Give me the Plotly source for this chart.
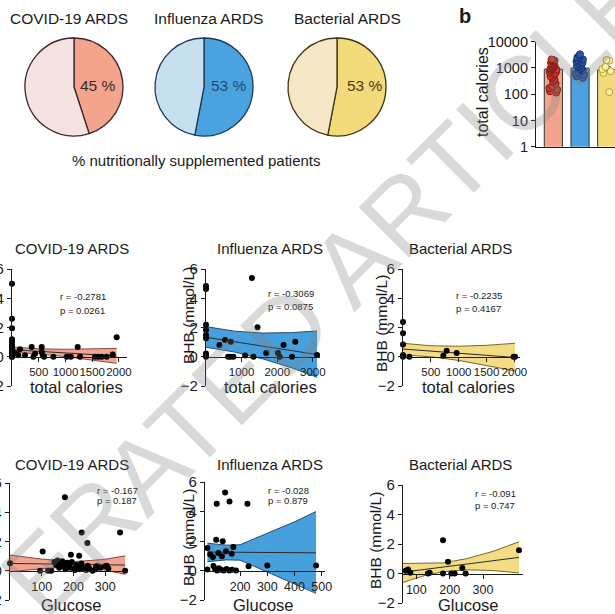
import plotly.graph_objects as go

# ---------------- data ----------------
groups = ["COVID-19 ARDS", "Influenza ARDS", "Bacterial ARDS"]
pct_supplemented = [45, 53, 53]

bar_means = [900, 980, 850]
bar_sem = [110, 190, 260]
covid_cal_dots = [2100, 2000, 1900, 1800, 1700, 1550, 1400, 1300, 1200, 1100, 1000, 950, 900, 850,
                  800, 700, 650, 600, 550, 480, 420, 360, 300, 250, 200, 170, 150, 130, 115]
flu_cal_dots = [3300, 2900, 2500, 2300, 2100, 1950, 1800, 1600, 1450, 1300, 1200, 1100, 1000, 900,
                800, 700, 620, 550, 480, 420]
bac_cal_dots = [2000, 1900, 1100, 900, 750, 650, 120]

# BHB vs total calories
covid_cal_x = [0, 0, 0, 0, 0, 0, 0, 0, 0, 0, 0, 0, 0, 56, 118, 150, 243, 368, 400, 430, 555, 555, 575,
               600, 773, 1023, 1100, 1228, 1272, 1552, 1615, 1677, 1770, 1883, 1957]
covid_cal_y = [5.0, 2.6, 1.95, 1.2, 1.0, 0.8, 0.6, 0.45, 0.3, 0.2, 0.1, 0.0, 0.0, 0.25, 0.1, 0.52, 0.1,
               0.66, 0.0, 0.2, 0.66, 0.35, 0.1, 0.0, 0.0, 0.0, 0.0, 0.66, 0.0, 0.0, 0.0, 0.0, 0.0, 0.15, 1.34]
flu_cal_x = [0, 0, 0, 0, 0, 0, 0, 0, 0, 376, 535, 695, 620, 690, 770, 1099, 1287, 1333, 1446, 1690,
             2019, 2070, 2178, 2413, 2507, 3117]
flu_cal_y = [4.83, 4.63, 2.18, 1.83, 1.49, 1.26, 0.23, 0.1, 0.0, 0.8, 1.15, 1.03, 0.0, 0.0, 0.0, 0.08,
             5.38, 0.0, 2.02, 0.25, 0.25, 0.0, 0.8, 0.0, 1.03, 0.12]
bac_cal_x = [0, 0, 0, 0, 0, 0, 113, 724, 784, 963, 1985, 2010]
bac_cal_y = [2.37, 1.6, 0.83, 0.12, 0.05, 0.0, 0.0, 0.07, 0.41, 0.25, 0.0, 0.0]

# BHB vs glucose
covid_glu_x = [0, 95, 103, 120, 130, 140, 145, 150, 155, 160, 165, 170, 173, 175, 180, 185, 190, 192, 195,
               200, 205, 210, 215, 218, 220, 225, 226, 230, 240, 244, 245, 250, 260, 270, 272, 278, 285,
               300, 305, 310, 347, 363]
covid_glu_y = [0.52, 0.0, 1.32, 0.0, 0.0, 0.6, 0.4, 0.7, 0.2, 0.5, 0.65, 0.3, 5.02, 0.1, 0.55, 0.4, 0.2,
               1.09, 0.6, 0.15, 0.05, 0.4, 0.3, 1.02, 0.1, 0.5, 2.61, 0.2, 0.05, 1.89, 0.35, 0.15, 0.0,
               0.1, 0.3, 0.3, 0.2, 0.3, 0.35, 0.15, 2.61, 0.0]
flu_glu_x = [80, 80, 90, 100, 102, 108, 112, 114, 115, 120, 122, 130, 133, 136, 140, 145, 148, 150, 160,
             161, 169, 170, 175, 185, 227, 231, 300, 479]
flu_glu_y = [1.53, 0.07, 1.08, 0.92, 0.3, 0.1, 2.09, 4.52, 0.0, 1.19, 0.15, 0.05, 0.96, 1.98, 0.0, 5.28,
             1.3, 0.1, 0.0, 4.67, 1.13, 0.05, 1.6, 0.0, 4.52, 0.29, 0.34, 0.34]
bac_glu_x = [68, 75, 82, 135, 140, 180, 180, 195, 205, 215, 238, 248, 408]
bac_glu_y = [0.18, 0.27, 0.05, 0.0, 0.05, 2.26, 0.0, 0.79, 0.0, 0.0, 0.38, 0.0, 1.58]

# regression line and 95% band
covid_cal_band_x = [0, 500, 1000, 1500, 1957]
covid_cal_fit = [0.48, 0.37, 0.26, 0.14, 0.05]
covid_cal_hi = [0.66, 0.54, 0.51, 0.52, 0.57]
covid_cal_lo = [0.30, 0.20, 0.01, -0.24, -0.45]
flu_cal_band_x = [0, 800, 1600, 2400, 3117]
flu_cal_fit = [1.33, 1.03, 0.73, 0.43, 0.15]
flu_cal_hi = [2.06, 1.75, 1.62, 1.65, 1.76]
flu_cal_lo = [0.65, 0.32, -0.15, -0.75, -1.40]
bac_cal_band_x = [0, 500, 1000, 1500, 2010]
bac_cal_fit = [0.53, 0.38, 0.24, 0.10, -0.05]
bac_cal_hi = [0.92, 0.75, 0.72, 0.78, 0.92]
bac_cal_lo = [0.12, 0.0, -0.25, -0.60, -0.97]
covid_glu_band_x = [0, 100, 200, 300, 363]
covid_glu_fit = [0.50, 0.47, 0.44, 0.41, 0.39]
covid_glu_hi = [1.07, 0.80, 0.62, 0.78, 1.02]
covid_glu_lo = [-0.07, 0.14, 0.26, 0.04, -0.24]
flu_glu_band_x = [80, 150, 200, 300, 400, 479]
flu_glu_fit = [1.25, 1.24, 1.23, 1.22, 1.21, 1.20]
flu_glu_hi = [1.85, 1.72, 1.75, 2.55, 3.30, 4.00]
flu_glu_lo = [0.60, 0.72, 0.70, -0.11, -0.88, -1.55]
bac_glu_band_x = [60, 120, 180, 250, 330, 408]
bac_glu_fit = [0.09, 0.26, 0.43, 0.63, 0.86, 1.09]
bac_glu_hi = [0.68, 0.68, 0.72, 1.00, 1.50, 2.15]
bac_glu_lo = [-0.60, -0.17, 0.12, 0.25, 0.20, 0.04]

stats_cal = [("r = -0.2781", "p = 0.0261"), ("r = -0.3069", "p = 0.0875"), ("r = -0.2235", "p = 0.4167")]
stats_glu = [("r = -0.167", "p = 0.187"), ("r = -0.028", "p = 0.879"), ("r = -0.091", "p = 0.747")]

bhb_ticks = [-2, 0, 2, 4, 6]
cal_ticks = [[500, 1000, 1500, 2000], [1000, 2000, 3000], [500, 1000, 1500, 2000]]
glu_ticks = [[100, 200, 300], [200, 300, 400, 500], [100, 200, 300]]
bar_ticks = [1, 10, 100, 1000, 10000]

# ---------------- styling ----------------
W, H = 615, 614
FONT = "Liberation Sans, Arial, Helvetica, sans-serif"
INK = "#1a1a1a"
dark_cols = ["#F4A48C", "#4AA3DF", "#F3DB7C"]
light_cols = ["#F5E2E2", "#C7DFEF", "#F5E6C6"]
edge_cols = ["#3a2626", "#1d3a5c", "#3f3414"]
pct_text_cols = ["#3a2a2a", "#1c4a78", "#4b3a10"]
dot_fill = ["#D23A2E", "#2F56A6", "#FBF0B0"]
dot_edge = ["#7a1b14", "#17306a", "#B99B14"]
band_fill = ["rgba(240,160,140,0.95)", "rgba(60,155,218,0.95)", "rgba(242,218,125,0.95)"]
band_edge = ["#7d3a2c", "#1c3c62", "#6a5818"]


def fx(px):
    return px / W


def fy(py):
    return 1 - py / H


fig = go.Figure()
annotations = []


def ann(text, x, y, size, color=INK, xanchor="center", angle=0, bold=False, yanchor="middle"):
    annotations.append(dict(text=("<b>%s</b>" % text) if bold else text, x=fx(x), y=fy(y), xref="paper",
                            yref="paper", showarrow=False, xanchor=xanchor, yanchor=yanchor,
                            textangle=angle, font=dict(family=FONT, size=size, color=color)))


# ---------------- pies ----------------
pie_boxes = [(25, 123), (155, 253), (288, 386)]
pie_title_x = [69, 208, 348]
pie_text_pos = [(98, 85), (229, 85), (365, 85)]
for i, g in enumerate(groups):
    x0, x1 = pie_boxes[i]
    fig.add_trace(go.Pie(values=[pct_supplemented[i], 100 - pct_supplemented[i]], sort=False,
                         direction="clockwise", rotation=0, textinfo="none", hoverinfo="skip",
                         marker=dict(colors=[dark_cols[i], light_cols[i]],
                                     line=dict(color=edge_cols[i], width=1.3)),
                         domain=dict(x=[fx(x0), fx(x1)], y=[fy(136.5), fy(37.5)]), showlegend=False))
    ann(g, pie_title_x[i], 18.5, 15.5)
    ann("%d %%" % pct_supplemented[i], pie_text_pos[i][0], pie_text_pos[i][1], 15.5, pct_text_cols[i])
ann("% nutritionally supplemented patients", 196, 160, 15)

# ---------------- panel b ----------------
fig.add_trace(go.Bar(x=groups, y=bar_means, width=0.68, marker=dict(color=dark_cols,
                     line=dict(color="#333333", width=1)),
                     error_y=dict(type="data", array=bar_sem, symmetric=False, arrayminus=[0, 0, 0],
                                  color="#333333", thickness=1, width=4),
                     xaxis="x", yaxis="y", hoverinfo="skip"))
for i, vals in enumerate([covid_cal_dots, flu_cal_dots, bac_cal_dots]):
    fig.add_trace(go.Box(x=[groups[i]] * len(vals), y=vals, boxpoints="all", jitter=0.85, pointpos=0,
                         fillcolor="rgba(0,0,0,0)", line=dict(color="rgba(0,0,0,0)", width=0),
                         marker=dict(size=7, color=dot_fill[i], line=dict(color=dot_edge[i], width=1)),
                         xaxis="x", yaxis="y", hoverinfo="skip", showlegend=False))
ann("b", 465, 16, 20, bold=True)
ann("total calories", 482, 92, 16, angle=-90)

# ---------------- scatter panels ----------------
panels = [
    (covid_cal_x, covid_cal_y, covid_cal_band_x, covid_cal_fit, covid_cal_lo, covid_cal_hi, 0,
     (12, 127), (269, 386), [0, 2150], cal_ticks[0], 11.5),
    (flu_cal_x, flu_cal_y, flu_cal_band_x, flu_cal_fit, flu_cal_lo, flu_cal_hi, 1,
     (206, 320), (269, 386), [0, 3200], cal_ticks[1], 11.5),
    (bac_cal_x, bac_cal_y, bac_cal_band_x, bac_cal_fit, bac_cal_lo, bac_cal_hi, 2,
     (403, 520), (269, 386), [0, 2100], cal_ticks[2], 11.5),
    (covid_glu_x, covid_glu_y, covid_glu_band_x, covid_glu_fit, covid_glu_lo, covid_glu_hi, 0,
     (10, 128), (483, 600), [0, 372], glu_ticks[0], 12.5),
    (flu_glu_x, flu_glu_y, flu_glu_band_x, flu_glu_fit, flu_glu_lo, flu_glu_hi, 1,
     (205, 325), (482, 600), [71, 512], glu_ticks[1], 12.5),
    (bac_glu_x, bac_glu_y, bac_glu_band_x, bac_glu_fit, bac_glu_lo, bac_glu_hi, 2,
     (403, 523), (485, 603), [60, 420], glu_ticks[2], 12.5),
]

layout_axes = {}
for k, (xd, yd, bx, fit, lo, hi, ci, xdom, ydom, xr, xt, tfs) in enumerate(panels):
    n = k + 2
    xa, ya = "x%d" % n, "y%d" % n
    fig.add_trace(go.Scatter(x=bx, y=lo, mode="lines", line=dict(color=band_edge[ci], width=0.9),
                             xaxis=xa, yaxis=ya, hoverinfo="skip", showlegend=False))
    fig.add_trace(go.Scatter(x=bx, y=hi, mode="lines", line=dict(color=band_edge[ci], width=0.9),
                             fill="tonexty", fillcolor=band_fill[ci],
                             xaxis=xa, yaxis=ya, hoverinfo="skip", showlegend=False))
    fig.add_trace(go.Scatter(x=bx, y=fit, mode="lines", line=dict(color="#2b2b2b", width=1),
                             xaxis=xa, yaxis=ya, hoverinfo="skip", showlegend=False))
    fig.add_trace(go.Scatter(x=xd, y=yd, mode="markers", marker=dict(size=6, color="black"),
                             cliponaxis=False, xaxis=xa, yaxis=ya, hoverinfo="skip", showlegend=False))
    ybot, ytop = fy(ydom[1]), fy(ydom[0])
    zero_pos = ybot + (0 - bhb_ticks[0]) / (bhb_ticks[-1] - bhb_ticks[0]) * (ytop - ybot)
    layout_axes["xaxis%d" % n] = dict(domain=[fx(xdom[0]), fx(xdom[1])], range=xr, anchor="free",
                                      position=zero_pos, showline=True, linecolor=INK, linewidth=1.2,
                                      ticks="outside", ticklen=4, tickwidth=1.2, tickcolor=INK,
                                      tickvals=xt, showgrid=False, zeroline=False, automargin=False,
                                      tickangle=0, tickfont=dict(family=FONT, size=tfs, color=INK))
    layout_axes["yaxis%d" % n] = dict(domain=[ybot, ytop], range=[bhb_ticks[0], bhb_ticks[-1]],
                                      anchor=xa, showline=True, linecolor=INK, linewidth=1.2,
                                      ticks="outside", ticklen=4, tickwidth=1.2, tickcolor=INK,
                                      tickvals=bhb_ticks, showgrid=False, zeroline=False,
                                      automargin=False,
                                      tickfont=dict(family=FONT, size=15, color=INK))

# panel texts
title_x = [71.7, 270, 460]
for i in range(3):
    ann(groups[i], title_x[i], 248.5, 15)
    ann(groups[i], title_x[i], 464.5, 15)
xt_cal = [76.7, 270, 468]
xt_glu = [71.7, 263, 468]
for i in range(3):
    ann("total calories", xt_cal[i], 387, 16.5)
    ann("Glucose", xt_glu[i], 604.5, 16.5)
for (x, y) in [(188, 315), (381, 324), (188, 537), (375, 541)]:
    ann("BHB (mmol/L)", x, y, 15.5, angle=-90)
rp_cal_pos = [(58.3, 296.7, 310), (266, 293, 306), (454.3, 295, 308)]
rp_glu_pos = [(95, 490, 500.5), (266, 490, 500.7), (472.7, 493.3, 505)]
for i in range(3):
    x, y1, y2 = rp_cal_pos[i]
    ann(stats_cal[i][0], x, y1, 9.5, xanchor="left")
    ann(stats_cal[i][1], x, y2, 9.5, xanchor="left")
    x, y1, y2 = rp_glu_pos[i]
    ann(stats_glu[i][0], x, y1, 9.5, xanchor="left")
    ann(stats_glu[i][1], x, y2, 9.5, xanchor="left")

# watermark
annotations.append(dict(text="ACCELERATED ARTICLE PREVIEW", x=fx(386), y=fy(230), xref="paper",
                        yref="paper", showarrow=False, xanchor="center", yanchor="middle",
                        textangle=-45, font=dict(family=FONT, size=104, color="rgba(128,128,128,0.30)")))

fig.update_layout(
    width=W, height=H, margin=dict(l=0, r=0, t=0, b=0, autoexpand=False),
    paper_bgcolor="white", plot_bgcolor="rgba(0,0,0,0)", showlegend=False,
    font=dict(family=FONT, color=INK),
    xaxis=dict(domain=[fx(536), 1.0], range=[-0.65, 2.31], type="category", showline=True,
               linecolor=INK, linewidth=1.2, showticklabels=False, ticks="", showgrid=False,
               anchor="y", zeroline=False, automargin=False),
    yaxis=dict(domain=[fy(146.7), fy(41.7)], type="log", range=[0, 4], tickvals=bar_ticks,
               ticktext=[str(v) for v in bar_ticks], showline=True, linecolor=INK, linewidth=1.2,
               ticks="outside", ticklen=4, tickwidth=1.2, tickcolor=INK, showgrid=False,
               anchor="x", zeroline=False, automargin=False,
               tickfont=dict(family=FONT, size=14.5, color=INK)),
    annotations=annotations,
    boxmode="overlay",
    **layout_axes,
)

fig.write_html("out.html", config={"displayModeBar": False},
               post_script="document.body.style.margin='0px';")
